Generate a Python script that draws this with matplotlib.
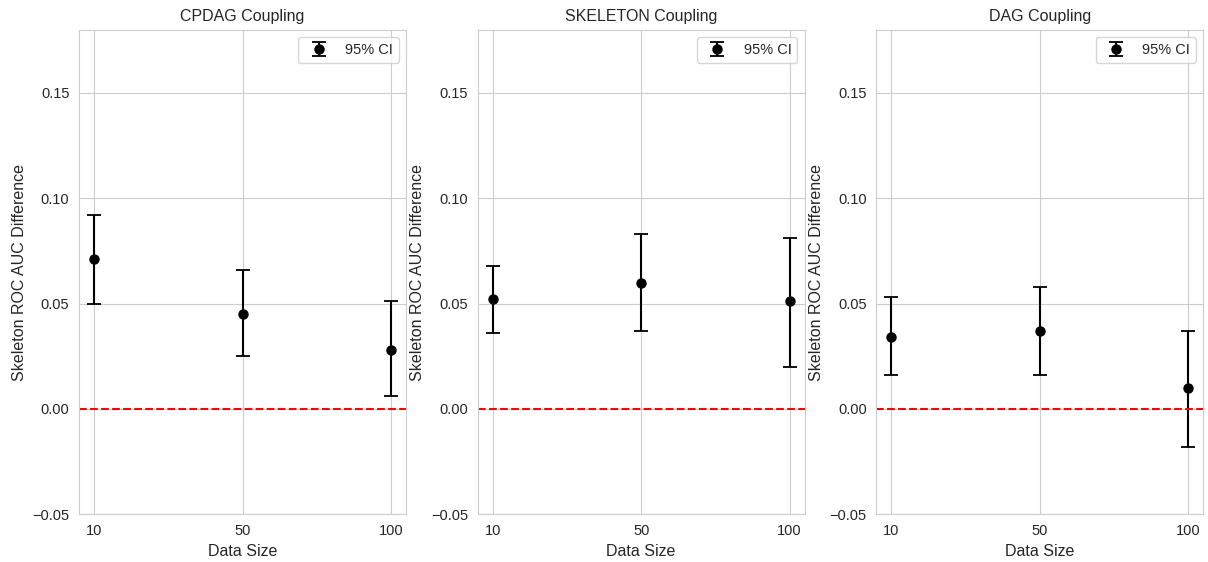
import matplotlib
matplotlib.use('Agg')
import matplotlib.pyplot as plt
import seaborn as sns

# Data
data_sizes = ['10', '50', '100']
titles = ['CPDAG Coupling', 'SKELETON Coupling', 'DAG Coupling']

cpdag_mean = [0.071, 0.045, 0.028]
cpdag_low = [0.050, 0.025, 0.006]
cpdag_high = [0.092, 0.066, 0.051]

skeleton_mean = [0.052, 0.060, 0.051]
skeleton_low = [0.036, 0.037, 0.020]
skeleton_high = [0.068, 0.083, 0.081]

dag_mean = [0.034, 0.037, 0.010]
dag_low = [0.016, 0.016, -0.018]
dag_high = [0.053, 0.058, 0.037]

means = [cpdag_mean, skeleton_mean, dag_mean]
lows = [cpdag_low, skeleton_low, dag_low]
highs = [cpdag_high, skeleton_high, dag_high]

sns.set_style('whitegrid')
plt.rcParams['font.family'] = ['Liberation Sans', 'DejaVu Sans']

fig, axes = plt.subplots(1, 3, figsize=(12.08, 5.62), dpi=100)
fig.subplots_adjust(left=0.0655, right=0.996, top=0.947, bottom=0.085, wspace=0.22)

for ax, title, m, lo, hi in zip(axes, titles, means, lows, highs):
    err = [[a - b for a, b in zip(m, lo)], [b - a for a, b in zip(m, hi)]]
    ax.errorbar(data_sizes, m, yerr=err, fmt='o', color='black', ecolor='black',
                elinewidth=1.5, capsize=5, capthick=1.3, markersize=6.5, label='95% CI')
    ax.axhline(0, color='red', linestyle='--', linewidth=1.5)
    ax.set_ylim(-0.05, 0.18)
    ax.set_yticks([-0.05, 0.0, 0.05, 0.10, 0.15])
    ax.set_title(title, fontsize=11.5)
    ax.set_xlabel('Data Size', fontsize=11.5)
    ax.set_ylabel('Skeleton ROC AUC Difference', fontsize=11.5)
    ax.tick_params(labelsize=10.5)
    ax.legend(loc='upper right', fontsize=10.5)

plt.savefig('out.png', dpi=100)
